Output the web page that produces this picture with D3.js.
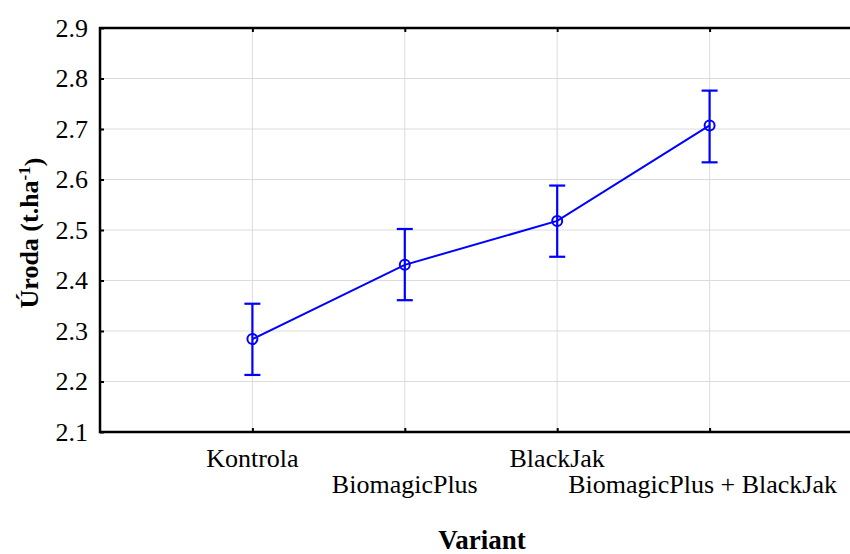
<!DOCTYPE html>
<html>
<head>
<meta charset="utf-8">
<script src="https://cdn.jsdelivr.net/npm/d3@7"></script>
<style>
  body { margin: 0; background: #fff; }
  text { font-family: 'Liberation Serif', 'Times New Roman', serif; fill: #000; }
</style>
</head>
<body>
<svg class="svg"></svg>
<script>
// data
var categories = ['Kontrola', 'BiomagicPlus', 'BlackJak', 'BiomagicPlus + BlackJak'];
var means = [2.284, 2.431, 2.518, 2.707];
var lower = [2.213, 2.361, 2.447, 2.634];
var upper = [2.354, 2.502, 2.588, 2.776];
var yTicks = [2.1, 2.2, 2.3, 2.4, 2.5, 2.6, 2.7, 2.8, 2.9];
var labelRow = [0, 1, 0, 1]; // staggered category labels

var W = 850, H = 554;
var plot = { left: 100, right: 862, top: 28, bottom: 432 };
var blue = '#0000ff';
var fs = '26px';

var svg = d3.select('.svg').attr('width', W).attr('height', H);

var x = d3.scalePoint()
    .domain(categories)
    .range([plot.left, plot.right])
    .padding(1);

var y = d3.scaleLinear()
    .domain([2.1, 2.9])
    .range([plot.bottom, plot.top]);

// grid
svg.append('g').selectAll('line')
    .data(yTicks.slice(1, -1))
    .enter().append('line')
    .attr('x1', plot.left).attr('x2', W)
    .attr('y1', d => y(d)).attr('y2', d => y(d))
    .attr('stroke', '#dcdcdc').attr('stroke-width', 1);

svg.append('g').selectAll('line')
    .data(categories)
    .enter().append('line')
    .attr('x1', d => x(d)).attr('x2', d => x(d))
    .attr('y1', plot.top).attr('y2', plot.bottom)
    .attr('stroke', '#dcdcdc').attr('stroke-width', 1);

// y axis, ticks pointing inward
var yAxis = d3.axisRight(y)
    .tickValues(yTicks)
    .tickSize(4)
    .tickFormat(d3.format('.1f'));

var ya = svg.append('g')
    .attr('transform', 'translate(' + plot.left + ',0)')
    .call(yAxis);
ya.select('.domain').remove();
ya.selectAll('line').attr('stroke', '#000').attr('stroke-width', 2);
ya.selectAll('text')
    .attr('x', -12)
    .attr('dy', '0.32em')
    .attr('text-anchor', 'end')
    .attr('font-size', fs);

// x ticks inward, bottom and top
var xb = svg.append('g')
    .attr('transform', 'translate(0,' + plot.bottom + ')')
    .call(d3.axisTop(x).tickSize(4).tickFormat(''));
xb.select('.domain').remove();
xb.selectAll('line').attr('stroke', '#000').attr('stroke-width', 2);

var xt = svg.append('g')
    .attr('transform', 'translate(0,' + plot.top + ')')
    .call(d3.axisBottom(x).tickSize(4).tickFormat(''));
xt.select('.domain').remove();
xt.selectAll('line').attr('stroke', '#000').attr('stroke-width', 2);

// frame
svg.append('path')
    .attr('d', 'M' + W + ',' + plot.top + 'H' + plot.left + 'V' + plot.bottom + 'H' + W)
    .attr('fill', 'none')
    .attr('stroke', '#000')
    .attr('stroke-width', 2.5);

// category labels
svg.append('g').selectAll('text')
    .data(categories)
    .enter().append('text')
    .attr('x', (d, i) => x(d) - (i === 3 ? 7 : 0))
    .attr('y', (d, i) => 467 + labelRow[i] * 26)
    .attr('text-anchor', 'middle')
    .attr('font-size', fs)
    .text(d => d);

// error bars
var eb = svg.append('g').selectAll('g')
    .data(categories)
    .enter().append('g')
    .attr('stroke', blue)
    .attr('stroke-width', 2.2);

eb.append('line')
    .attr('x1', d => x(d)).attr('x2', d => x(d))
    .attr('y1', (d, i) => y(lower[i])).attr('y2', (d, i) => y(upper[i]));
eb.append('line')
    .attr('x1', d => x(d) - 8).attr('x2', d => x(d) + 8)
    .attr('y1', (d, i) => y(upper[i])).attr('y2', (d, i) => y(upper[i]));
eb.append('line')
    .attr('x1', d => x(d) - 8).attr('x2', d => x(d) + 8)
    .attr('y1', (d, i) => y(lower[i])).attr('y2', (d, i) => y(lower[i]));

// mean line
var line = d3.line()
    .x((d, i) => x(categories[i]))
    .y(d => y(d));

svg.append('path')
    .datum(means)
    .attr('d', line)
    .attr('fill', 'none')
    .attr('stroke', blue)
    .attr('stroke-width', 2);

svg.append('g').selectAll('circle')
    .data(means)
    .enter().append('circle')
    .attr('cx', (d, i) => x(categories[i]))
    .attr('cy', d => y(d))
    .attr('r', 5)
    .attr('fill', 'none')
    .attr('stroke', blue)
    .attr('stroke-width', 2);

// axis titles
svg.append('text')
    .attr('x', 482)
    .attr('y', 549)
    .attr('text-anchor', 'middle')
    .attr('font-size', '27px')
    .attr('font-weight', 'bold')
    .text('Variant');

var yt = svg.append('text')
    .attr('transform', 'translate(38,233) rotate(-90)')
    .attr('text-anchor', 'middle')
    .attr('font-size', fs)
    .attr('font-weight', 'bold');
yt.append('tspan').text('Úroda (t.ha');
yt.append('tspan').attr('dy', '-0.45em').attr('font-size', '17px').text('-1');
yt.append('tspan').attr('dy', '0.45em').text(')');
</script>
</body>
</html>
